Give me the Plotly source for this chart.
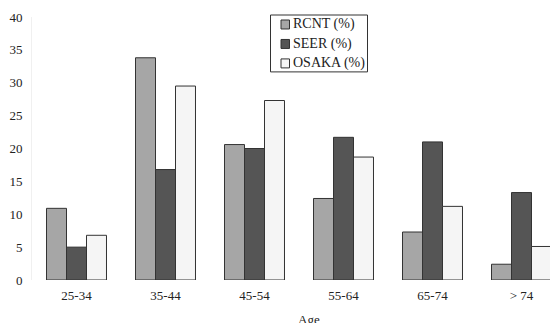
import plotly.graph_objects as go

categories = ["25-34", "35-44", "45-54", "55-64", "65-74", "> 74"]
rcnt = [10.9, 33.8, 20.6, 12.4, 7.3, 2.4]
seer = [5.0, 16.8, 20.0, 21.7, 21.0, 13.3]
osaka = [6.8, 29.5, 27.3, 18.7, 11.2, 5.1]
y_ticks = [0, 5, 10, 15, 20, 25, 30, 35, 40]
series_names = ["RCNT (%)", "SEER (%)", "OSAKA (%)"]
series_colors = ["#a6a6a6", "#555555", "#f5f5f5"]
x_title = "Age"

FAM = "Liberation Serif"
font = dict(family=FAM, size=13, color="#222222")
edge = dict(color="#333333", width=1)

W, H = 550, 323
ML, MR, MT, MB = 32, 0, 16.5, 43
PW, PH = W - ML - MR, H - MT - MB


def px(x):
    return (x - ML) / PW


def py(y):
    return (H - MB - y) / PH


fig = go.Figure()
for name, vals, col in zip(series_names, [rcnt, seer, osaka], series_colors):
    fig.add_trace(go.Bar(x=categories, y=vals, name=name,
                         marker=dict(color=col, line=edge)))

# custom legend (box, swatches, labels)
shapes = [dict(type="rect", xref="paper", yref="paper",
               x0=px(270.5), x1=px(367.5), y0=py(71.5), y1=py(14.5),
               line=dict(color="#333333", width=1), fillcolor="white", layer="above")]
annotations = []
row_y = [24, 43.5, 63]
for name, col, ry in zip(series_names, series_colors, row_y):
    shapes.append(dict(type="rect", xref="paper", yref="paper",
                       x0=px(281), x1=px(289.5), y0=py(ry + 4.5), y1=py(ry - 4.5),
                       line=dict(color="#333333", width=1), fillcolor=col, layer="above"))
    annotations.append(dict(text=name, xref="paper", yref="paper",
                            x=px(291), y=py(ry), xanchor="left", yanchor="middle",
                            showarrow=False, font=dict(family=FAM, size=14, color="#222222")))

# x-axis title (partly cut off at the bottom edge, as in the reference)
annotations.append(dict(text=x_title, xref="paper", yref="paper",
                        x=px(308.5), y=py(310.5), xanchor="center", yanchor="top",
                        showarrow=False, font=font))

fig.update_layout(
    width=W, height=H,
    margin=dict(l=ML, r=MR, t=MT, b=MB),
    paper_bgcolor="white", plot_bgcolor="white",
    font=font,
    barmode="group", bargap=0.326, bargroupgap=0,
    showlegend=False,
    shapes=shapes, annotations=annotations,
    xaxis=dict(range=[-0.5, -0.5 + PW / 89.0], showgrid=False, zeroline=False,
               showline=False, ticks="", ticklen=0, automargin=False,
               ticklabelstandoff=6),
    yaxis=dict(range=[0, 40], tickvals=y_ticks, showgrid=False, zeroline=False,
               showline=True, linecolor="#f0f0f0", linewidth=1, ticks="",
               automargin=False, ticklabelstandoff=6),
)

fig.write_html("out.html",
               config={"displayModeBar": False},
               post_script="document.body.style.margin='0';document.body.style.overflow='hidden';")
